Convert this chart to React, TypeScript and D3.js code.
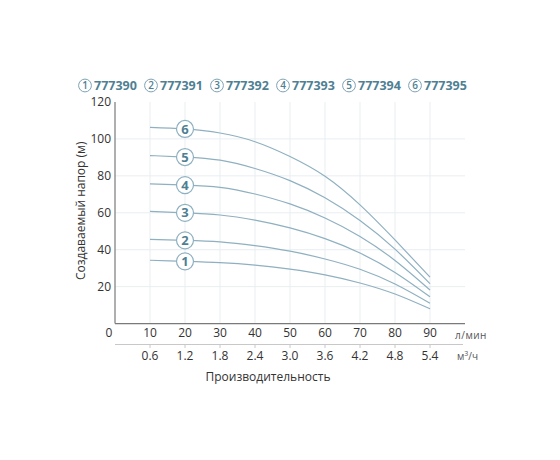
import React, { useEffect, useRef } from 'react';
import * as d3 from 'd3';

const flow = [10, 20, 30, 40, 50, 60, 70, 80, 90];
const models = ['777390', '777391', '777392', '777393', '777394', '777395'];
const head1 = [34.3, 33.7, 33, 31.7, 29.5, 26.4, 22, 16, 8];
const head2 = [45.6, 45.1, 44.3, 42.2, 39.2, 35, 29.4, 21.4, 11];
const head3 = [60.8, 60, 58.8, 56, 51.8, 46, 38.2, 27.7, 14.5];
const head4 = [75.7, 75, 73.8, 70.2, 64.8, 57.2, 47.2, 34.2, 18.2];
const head5 = [91, 90.2, 88.5, 84, 77.4, 68.1, 55.8, 40.3, 21.6];
const head6 = [106.3, 105.4, 103.2, 98.5, 90.5, 79.8, 64.3, 45.3, 25.2];
const yTicks = [20, 40, 60, 80, 100, 120];
const m3Labels = ['0.6', '1.2', '1.8', '2.4', '3.0', '3.6', '4.2', '4.8', '5.4'];

const series = [head1, head2, head3, head4, head5, head6];

const FONT = '"Open Sans", sans-serif';
const TEAL = '#4f7f93';
const CURVE = '#8fb0c0';
const GRID = '#e9eef1';

const App: React.FC = () => {
  const svgRef = useRef<SVGSVGElement | null>(null);

  useEffect(() => {
    if (!svgRef.current) return;
    const svg = d3.select(svgRef.current);
    svg.selectAll('*').remove();

    const x = d3.scaleLinear().domain([0, 100]).range([115, 465]);
    const y = d3.scaleLinear().domain([0, 120]).range([323.6, 102]);

    // grid
    const grid = svg.append('g');
    grid.selectAll('line.v')
      .data(flow)
      .join('line')
      .attr('x1', d => x(d)).attr('x2', d => x(d))
      .attr('y1', y(120)).attr('y2', y(0))
      .attr('stroke', GRID).attr('stroke-width', 1);
    grid.selectAll('line.h')
      .data(yTicks.filter(d => d < 120))
      .join('line')
      .attr('x1', x(0)).attr('x2', x(100))
      .attr('y1', d => y(d)).attr('y2', d => y(d))
      .attr('stroke', GRID).attr('stroke-width', 1);

    // axes
    svg.append('line')
      .attr('x1', x(0)).attr('x2', x(0))
      .attr('y1', y(120)).attr('y2', y(0))
      .attr('stroke', '#7a7a7a').attr('stroke-width', 1.2);
    svg.append('line')
      .attr('x1', x(0)).attr('x2', x(100))
      .attr('y1', y(0)).attr('y2', y(0))
      .attr('stroke', '#7a7a7a').attr('stroke-width', 1.2);

    const yAxis = svg.append('g')
      .attr('font-family', FONT).attr('font-size', 12).attr('fill', '#333')
      .attr('text-anchor', 'end');
    yAxis.selectAll('text')
      .data(yTicks)
      .join('text')
      .attr('x', 111)
      .attr('y', d => y(d))
      .attr('dy', '0.35em')
      .text(d => d);

    svg.append('text')
      .attr('transform', `translate(85,${(y(120) + y(0)) / 2 - 2}) rotate(-90)`)
      .attr('text-anchor', 'middle')
      .attr('font-family', FONT).attr('font-size', 12).attr('fill', '#333')
      .text('Создаваемый напор (м)');

    // x labels (л/мин)
    const xLab = svg.append('g')
      .attr('font-family', FONT).attr('font-size', 12).attr('fill', '#333')
      .attr('text-anchor', 'middle');
    xLab.selectAll('text')
      .data([0, ...flow])
      .join('text')
      .attr('x', d => (d === 0 ? 109 : x(d)))
      .attr('y', 333)
      .attr('dy', '0.35em')
      .text(d => d);
    svg.append('text')
      .attr('x', 455).attr('y', 335).attr('dy', '0.35em')
      .attr('font-family', FONT).attr('font-size', 10).attr('fill', '#555')
      .attr('letter-spacing', 0.5)
      .text('л/мин');

    // secondary axis (м³/ч)
    svg.append('line')
      .attr('x1', x(0)).attr('x2', 463)
      .attr('y1', 344.5).attr('y2', 344.5)
      .attr('stroke', '#c8c8c8').attr('stroke-width', 1);
    svg.append('g').selectAll('line')
      .data(flow)
      .join('line')
      .attr('x1', d => x(d)).attr('x2', d => x(d))
      .attr('y1', 344.5).attr('y2', 348)
      .attr('stroke', '#c8c8c8');
    const m3 = svg.append('g')
      .attr('font-family', FONT).attr('font-size', 12).attr('fill', '#333')
      .attr('text-anchor', 'middle');
    m3.selectAll('text')
      .data(flow)
      .join('text')
      .attr('x', d => x(d))
      .attr('y', 356)
      .attr('dy', '0.35em')
      .text((_, i) => m3Labels[i]);
    svg.append('text')
      .attr('x', 457).attr('y', 356).attr('dy', '0.35em')
      .attr('font-family', FONT).attr('font-size', 10).attr('fill', '#555')
      .html('м<tspan dy="-4" font-size="7">3</tspan><tspan dy="4">/ч</tspan>');

    svg.append('text')
      .attr('x', 268).attr('y', 377).attr('dy', '0.35em')
      .attr('text-anchor', 'middle')
      .attr('font-family', FONT).attr('font-size', 12).attr('fill', '#333')
      .text('Производительность');

    // curves
    const line = d3.line<number>()
      .x((_, i) => x(flow[i]))
      .y(d => y(d))
      .curve(d3.curveNatural);
    svg.append('g').selectAll('path')
      .data(series)
      .join('path')
      .attr('d', d => line(d))
      .attr('fill', 'none')
      .attr('stroke', CURVE)
      .attr('stroke-width', 1.2);

    // curve markers
    const marks = svg.append('g').selectAll('g')
      .data(series)
      .join('g')
      .attr('transform', d => `translate(${x(flow[1])},${y(d[1])})`);
    marks.append('circle')
      .attr('r', 8.5)
      .attr('fill', '#fff')
      .attr('stroke', CURVE)
      .attr('stroke-width', 1.2);
    marks.append('text')
      .attr('text-anchor', 'middle')
      .attr('dy', '0.36em')
      .attr('font-family', FONT).attr('font-size', 13).attr('font-weight', 700)
      .attr('fill', TEAL)
      .text((_, i) => i + 1);

    // legend
    const legend = svg.append('g').selectAll('g')
      .data(models)
      .join('g')
      .attr('transform', (_, i) => `translate(${85 + i * 66},85.5)`);
    legend.append('circle')
      .attr('r', 6.4)
      .attr('fill', '#fff')
      .attr('stroke', '#7fa3b3')
      .attr('stroke-width', 1);
    legend.append('text')
      .attr('text-anchor', 'middle')
      .attr('dy', '0.36em')
      .attr('font-family', FONT).attr('font-size', 10).attr('font-weight', 600)
      .attr('fill', TEAL)
      .text((_, i) => i + 1);
    legend.append('text')
      .attr('x', 9)
      .attr('dy', '0.36em')
      .attr('font-family', FONT).attr('font-size', 12.5).attr('font-weight', 700)
      .attr('fill', TEAL)
      .text(d => d);
  }, []);

  return (
    <svg
      ref={svgRef}
      width={560}
      height={460}
      style={{ position: 'absolute', left: 0, top: 0, display: 'block' }}
    />
  );
};

export default App;
